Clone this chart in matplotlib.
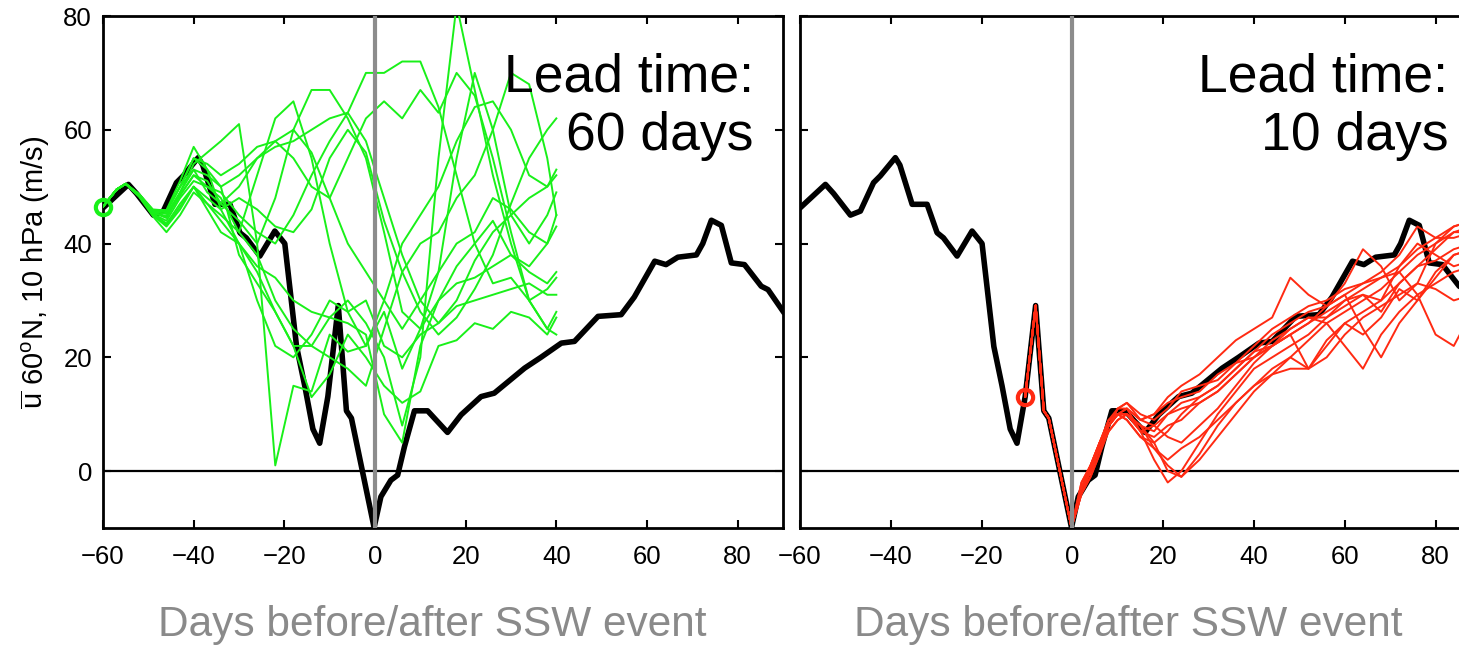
import numpy as np
import matplotlib.pyplot as plt

plt.rcParams['font.family'] = ['Liberation Sans', 'DejaVu Sans']
plt.rcParams['mathtext.default'] = 'regular'

obs_days = [-59.8, -54.4, -52.6, -48.9, -46.7, -43.8, -42.3, -39.0, -38.0, -35.3,
            -32.0, -29.8, -28.4, -25.4, -22.1, -19.9, -17.3, -15.5, -13.7, -12.2,
            -10.4, -8.1, -6.3, -5.2, -0.2, 1.3, 3.5, 5.0, 6.5, 8.7,
            11.6, 16.0, 19.0, 23.4, 26.3, 33.0, 36.6, 41.1, 44.0, 49.2,
            54.3, 57.2, 61.7, 64.2, 66.8, 70.9, 72.3, 74.2, 76.4, 78.6,
            81.5, 85.2, 86.7, 90.0]
obs_vals = [46.4, 50.4, 48.8, 45.0, 45.7, 50.7, 51.9, 55.1, 53.8, 46.9,
            46.9, 41.9, 41.0, 37.8, 42.2, 40.0, 21.9, 15.0, 7.4, 4.9,
            13.1, 29.1, 10.6, 9.3, -9.9, -4.5, -1.6, -0.7, 4.3, 10.6,
            10.6, 6.8, 9.9, 13.1, 13.7, 18.1, 20.0, 22.5, 22.8, 27.2,
            27.5, 30.6, 36.9, 36.3, 37.6, 38.0, 40.0, 44.1, 43.2, 36.6,
            36.3, 32.5, 31.9, 28.1]

# 60-day lead forecasts (green)
green_days = [-60, -57, -55, -52, -49, -46, -43, -40, -37, -34, -30, -26, -22, -18, -14,
              -10, -6, -2, 2, 6, 10, 14, 18, 22, 26, 30, 34, 38, 40]
green_members = [
    [46.5, 49.5, 50.5, 48.5, 45.5, 44.5, 49, 54, 56, 58, 61, 40, 1, 15, 14, 24, 21, 22, 28, 18, 25, 30, 36, 40, 44, 38, 36, 40, 43],
    [46.5, 49.5, 50.5, 48.3, 45.2, 44.0, 48, 51, 50, 48, 42, 52, 62, 65, 55, 40, 28, 22, 30, 40, 45, 50, 58, 64, 65, 60, 52, 50, 53],
    [46.5, 49.5, 50.5, 48.6, 45.8, 45.5, 50, 53, 49, 47, 44, 40, 48, 60, 67, 67, 62, 55, 42, 28, 25, 35, 55, 70, 60, 45, 40, 45, 49],
    [46.5, 49.5, 50.5, 48.4, 45.4, 44.8, 48.5, 52, 50, 49, 45, 42, 40, 45, 52, 58, 63, 70, 70, 72, 72, 64, 52, 40, 33, 34, 30, 32, 34],
    [46.5, 49.5, 50.5, 48.5, 45.0, 43.0, 46, 50, 48, 46, 40, 36, 34, 30, 28, 27, 26, 24, 10, 5, 22, 30, 33, 34, 36, 38, 35, 33, 35],
    [46.5, 49.5, 50.5, 48.7, 46.0, 45.8, 50, 55, 53, 50, 38, 33, 28, 22, 22, 27, 30, 26, 20, 8, 20, 55, 82, 67, 52, 40, 30, 25, 24],
    [46.5, 49.5, 50.5, 48.2, 44.8, 42.0, 45, 49, 47, 45, 42, 38, 30, 25, 22, 20, 18, 15, 25, 35, 40, 42, 48, 52, 60, 70, 68, 55, 45],
    [46.5, 49.5, 50.5, 48.5, 45.3, 43.5, 47, 50, 47, 44, 40, 35, 28, 22, 13, 17, 24, 20, 15, 12, 14, 22, 23, 26, 25, 28, 27, 24, 27],
    [46.5, 49.5, 50.5, 48.6, 45.6, 45.2, 49, 53, 52, 50, 52, 55, 57, 58, 60, 62, 63, 58, 48, 38, 30, 26, 30, 37, 42, 45, 48, 50, 52],
    [46.5, 49.5, 50.5, 48.4, 45.5, 44.6, 48.5, 52, 51, 47, 50, 55, 58, 55, 50, 48, 55, 62, 65, 62, 67, 63, 70, 66, 55, 42, 30, 25, 28],
    [46.5, 49.5, 50.5, 48.5, 45.7, 45.6, 50, 55, 54, 52, 54, 57, 58, 60, 56, 48, 40, 35, 30, 25, 30, 35, 40, 42, 48, 46, 42, 40, 45],
    [46.5, 49.5, 50.5, 48.3, 45.1, 43.2, 46.5, 50, 46, 42, 40, 30, 22, 20, 24, 30, 28, 30, 22, 20, 24, 26, 29, 30, 31, 32, 33, 31, 31],
    [46.5, 49.5, 50.5, 48.6, 45.9, 45.9, 51, 57, 53, 46, 48, 46, 43, 42, 46, 55, 60, 56, 44, 35, 28, 24, 27, 32, 38, 47, 55, 60, 62],
]

# 10-day lead forecasts (red): shared start, then members
red_pre_days = [-10.4, -8.1, -6.3, -5.2, -0.2]
red_pre_vals = [13.1, 29.1, 10.6, 9.3, -9.9]
red_days = [-0.2, 2, 4, 6, 8, 10, 12, 15, 18, 21, 24, 28, 32, 36, 40, 44, 48, 52, 56,
            60, 64, 68, 72, 76, 80, 84, 88]
red_members = [
    [-9.9, -4, -1, 3, 8, 11, 12, 9, 10, 13, 15, 17, 20, 23, 25, 27, 34, 31, 29, 33, 39, 36, 30, 33, 40, 43, 44],
    [-9.9, -3, 0, 4, 7, 9, 10, 8, 5, 0, -1, 3, 8, 12, 15, 18, 20, 23, 26, 28, 30, 32, 35, 38, 40, 42, 43],
    [-9.9, -2, 1, 5, 8, 10, 11, 7, 2, -2, 0, 5, 10, 14, 18, 20, 22, 24, 27, 30, 31, 30, 33, 36, 37, 39, 40],
    [-9.9, -4, 0, 4, 8, 10, 9, 6, 4, 2, 4, 6, 9, 12, 15, 17, 18, 18, 23, 26, 24, 27, 32, 30, 34, 38, 39],
    [-9.9, -3, 0, 4, 8, 11, 11, 9, 10, 12, 13, 14, 17, 19, 20, 22, 24, 26, 28, 30, 32, 34, 36, 40, 38, 36, 37],
    [-9.9, -3, 1, 5, 9, 10, 10, 7, 6, 8, 9, 12, 14, 17, 20, 23, 25, 27, 26, 22, 18, 24, 28, 31, 33, 35, 36],
    [-9.9, -2, 1, 5, 8, 10, 9, 6, 5, 7, 10, 13, 15, 18, 21, 24, 26, 28, 29, 31, 33, 34, 35, 31, 24, 22, 28],
    [-9.9, -4, -1, 3, 7, 9, 10, 8, 4, 1, -1, 2, 6, 10, 14, 17, 20, 18, 22, 26, 28, 30, 36, 39, 41, 43, 44],
    [-9.9, -3, 0, 4, 8, 10, 10, 8, 7, 10, 12, 13, 15, 18, 21, 22, 24, 18, 20, 24, 27, 29, 31, 33, 32, 30, 31],
    [-9.9, -3, 1, 5, 9, 10, 10, 7, 8, 6, 5, 8, 11, 15, 19, 22, 25, 27, 27, 29, 31, 28, 33, 36, 39, 42, 42],
    [-9.9, -3, 0, 4, 8, 10, 11, 9, 8, 10, 11, 12, 14, 17, 20, 22, 24, 26, 29, 31, 25, 20, 26, 30, 35, 38, 39],
    [-9.9, -3, 0, 5, 9, 11, 12, 10, 9, 11, 14, 15, 16, 19, 22, 25, 27, 29, 30, 32, 33, 35, 38, 43, 41, 41, 42],
]

green = '#19f019'
red = '#ff2a12'
xticks = [-60, -40, -20, 0, 20, 40, 60, 80]
yticks = [0, 20, 40, 60, 80]

W, H = 1459, 645
fig = plt.figure(figsize=(W / 100, H / 100), dpi=100)
ax1 = fig.add_axes([103 / W, (H - 528) / H, 680 / W, 512 / H])
ax2 = fig.add_axes([800 / W, (H - 528) / H, 681 / W, 512 / H])

for ax in (ax1, ax2):
    ax.axhline(0, color='black', lw=1.6, zorder=1)
    ax.axvline(0, color='#8c8c8c', lw=3, zorder=4)
    ax.set_xlim(-60, 90)
    ax.set_ylim(-10, 80)
    ax.set_xticks(xticks)
    ax.set_yticks(yticks)
    ax.tick_params(direction='in', length=6, width=1.5, top=True, right=True,
                   labelsize=18.5, pad=8)
    ax.tick_params(axis='x', pad=12)
    for s in ax.spines.values():
        s.set_linewidth(2)

# left: 60-day lead
for m in green_members:
    ax1.plot(green_days, m, color=green, lw=1.4, zorder=3)
ax1.plot(obs_days, obs_vals, color='black', lw=4, zorder=2)
ax1.plot(green_days[0], green_members[0][0], 'o', mfc='none', mec=green, ms=11, mew=3,
         zorder=5, clip_on=False)
ax1.text(83.5, 73.5, 'Lead time:\n60 days', ha='right', va='top', fontsize=38.5)
ax1.set_ylabel(r'$\overline{u}$ 60$^o$N, 10 hPa (m/s)', fontsize=21, labelpad=8)

# right: 10-day lead
ax2.plot(obs_days, obs_vals, color='black', lw=4, zorder=2)
for m in red_members:
    ax2.plot(red_pre_days + red_days[1:], red_pre_vals + m[1:], color=red, lw=1.4, zorder=3)
ax2.plot(red_pre_days[0], red_pre_vals[0], 'o', mfc='none', mec=red, ms=11, mew=3, zorder=5)
ax2.text(82.8, 73.5, 'Lead time:\n10 days', ha='right', va='top', fontsize=38.5)
ax2.set_yticklabels([])

fig.text(432 / W, 1 - 625 / H, 'Days before/after SSW event', ha='center', va='center',
         fontsize=30.5, color='#8a8a8a')
fig.text(1128 / W, 1 - 625 / H, 'Days before/after SSW event', ha='center', va='center',
         fontsize=30.5, color='#8a8a8a')

plt.savefig('out.png', dpi=100)
